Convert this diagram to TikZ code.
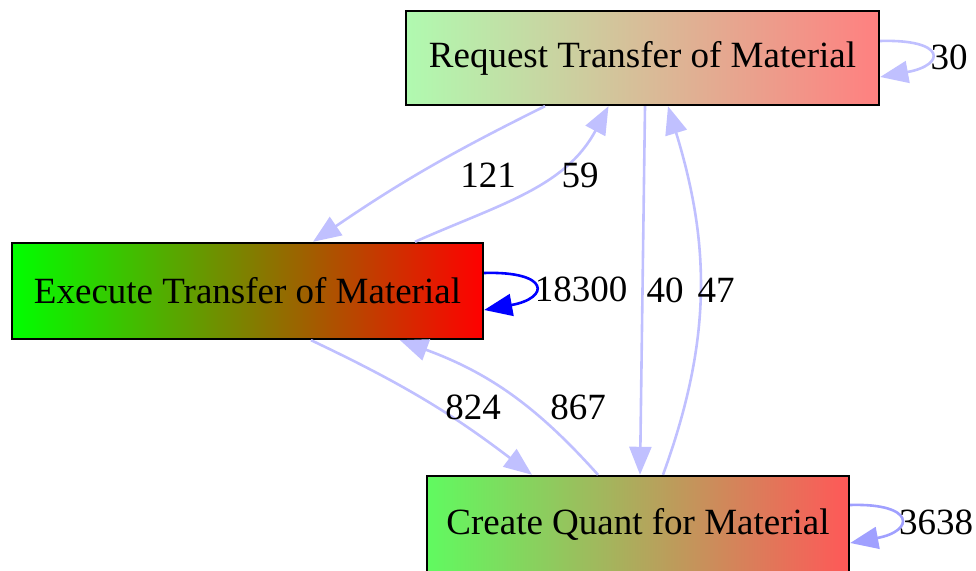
\documentclass[tikz,border=0pt]{standalone}
\usepackage{fontspec}
\setmainfont{Liberation Serif}
\usetikzlibrary{arrows.meta}
\definecolor{rL}{RGB}{176,250,176}
\definecolor{rR}{RGB}{255,128,128}
\definecolor{eL}{RGB}{0,255,0}
\definecolor{eR}{RGB}{255,0,0}
\definecolor{cL}{RGB}{96,250,96}
\definecolor{cR}{RGB}{255,88,88}
\definecolor{edgec}{RGB}{192,192,255}
\definecolor{edgemid}{RGB}{160,160,255}
\definecolor{edgedark}{RGB}{0,0,255}
\begin{document}
\begin{tikzpicture}[x=1pt,y=1pt,
  box/.style={draw=black, line width=2.4pt, inner sep=0pt, font=\fontsize{37}{44}\selectfont},
  edge/.style={draw=edgec, line width=2.6pt, -{Triangle[length=28pt,width=22pt]}},
  lbl/.style={font=\fontsize{37}{44}\selectfont, inner sep=0pt}]
\useasboundingbox (0,0) rectangle (976,570);
\node[box, minimum width=473pt, minimum height=94pt, left color=rL, right color=rR] (R) at (642.5,512) {Request Transfer of Material};
\node[box, minimum width=471pt, minimum height=96pt, left color=eL, right color=eR] (E) at (247.5,279) {Execute Transfer of Material};
\node[box, minimum width=422pt, minimum height=96pt, left color=cL, right color=cR] (C) at (638,46) {Create Quant for Material};

% R -> E (121)
\draw[edge] ([xshift=-97.5pt]R.south) to[bend right=4] ([xshift=65.5pt]E.north);
% E -> R (59)
\draw[edge] ([xshift=167.5pt]E.north) to[out=24,in=242] ([xshift=-34pt]R.south);
% R -> C (40)
\draw[edge] ([xshift=2.5pt]R.south) -- ([xshift=2pt]C.north);
% C -> R (47)
\draw[edge] ([xshift=25pt]C.north) to[out=70,in=287] ([xshift=25.5pt]R.south);
% E -> C (824)
\draw[edge] ([xshift=63.5pt]E.south) to[bend left=6] ([xshift=-106pt]C.north);
% C -> E (867)
\draw[edge] ([xshift=-40pt]C.north) to[bend right=14] ([xshift=152.5pt]E.south);

% self loops
\draw[edge] ([yshift=17pt]R.east) .. controls +(66,2) and +(66,12) .. ([yshift=-19pt]R.east);
\draw[edge, draw=edgedark, -{Triangle[length=28pt,width=22pt,fill=edgedark]}] ([yshift=18pt]E.east) .. controls +(66,2) and +(66,12) .. ([yshift=-19pt]E.east);
\draw[edge, draw=edgemid, -{Triangle[length=28pt,width=22pt,fill=edgemid]}] ([yshift=19pt]C.east) .. controls +(65,2) and +(65,12) .. ([yshift=-19pt]C.east);

% labels
\node[lbl] (l121) at (488,395) {121};
\node[lbl] (l59) at (580,395) {59};
\node[lbl] (l40) at (665,280) {40};
\node[lbl] (l47) at (716,280) {47};
\node[lbl] (l824) at (473,163) {824};
\node[lbl] (l867) at (578,163) {867};
\node[lbl] (l18300) at (581,281) {18300};
\node[lbl] (l3638) at (936,47.5) {3638};
\node[lbl] (l30) at (949,513) {30};
\end{tikzpicture}
\end{document}
